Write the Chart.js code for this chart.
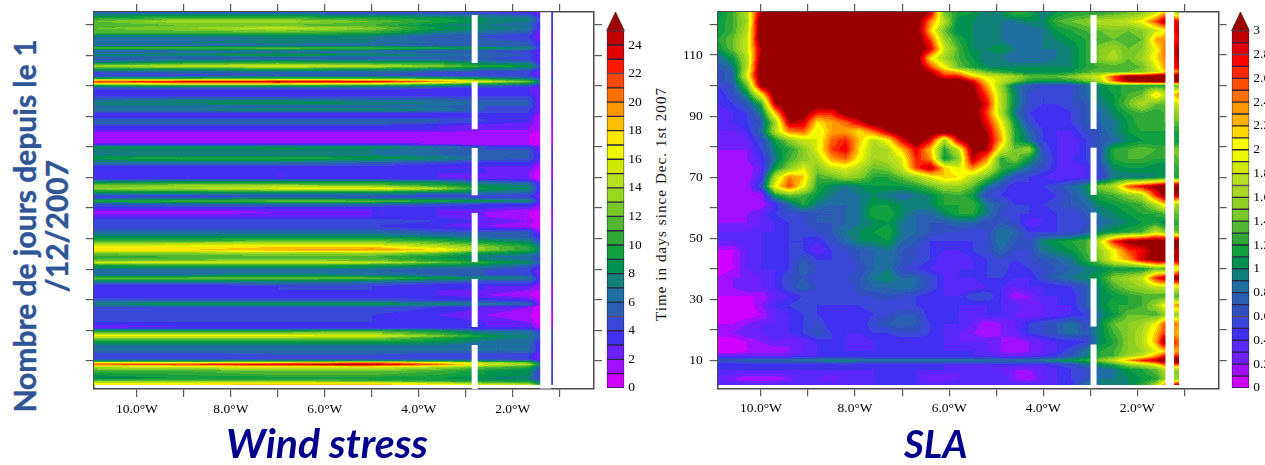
<!DOCTYPE html>
<html>
<head>
<meta charset="utf-8">
<script src="https://cdn.jsdelivr.net/npm/chart.js@4/dist/chart.umd.min.js"></script>
<style>
    body { margin: 0; background: #ffffff; width: 1265px; height: 465px; overflow: hidden; position: relative; }
    canvas { position: absolute; }
    .caption { position: absolute; color: #00008b; font: italic 700 38.5px Lato; white-space: nowrap; }
    #y_title {
        position: absolute; left: -180px; top: 194px; width: 440px; text-align: center;
        color: #2f5597; font: 700 30px/32px Lato;
        -webkit-text-stroke: 0.4px #2f5597;
        transform: rotate(-90deg);
    }
    #time_title {
        position: absolute; left: 511px; top: 194px; width: 300px; text-align: center;
        color: #111111; font: 15px/20px "Liberation Serif"; letter-spacing: 1.1px; white-space: nowrap;
        transform: rotate(-90deg);
    }
</style>
</head>
<body>
<div id="y_title">Nombre de jours depuis le 1<br>/12/2007</div>
<div id="time_title">Time in days since Dec. 1st 2007</div>
<canvas id="wind_chart" style="left:0;top:0" width="604" height="430"></canvas>
<canvas id="wind_bar" style="left:600px;top:0" width="50" height="400"></canvas>
<canvas id="sla_chart" style="left:650px;top:0" width="578" height="430"></canvas>
<canvas id="sla_bar" style="left:1225px;top:0" width="40" height="400"></canvas>
<div class="caption" style="left:226px;top:418px;font-size:41px">Wind stress</div>
<div class="caption" style="left:904px;top:420px">SLA</div>

<script>
const LON_TICKS = [-10, -9, -8, -7, -6, -5, -4, -3, -2, -1];
const LON_LABELS = ["10.0°W", "", "8.0°W", "", "6.0°W", "", "4.0°W", "", "2.0°W", ""];
const DAY_TICKS = [10, 20, 30, 40, 50, 60, 70, 80, 90, 100, 110, 120];
const DAY_LABELS = ["10", "", "30", "", "50", "", "70", "", "90", "", "110", ""];

// white gaps in the section, in days
const GAP_DAYS = [[123.1, 107.4], [101.2, 85.8], [79.6, 64.2], [58.4, 42.4], [36.8, 21.1], [15.2, 0.85]];

const WIND_COLORS = ["#d000ff", "#a010ff", "#6a20f8", "#4030f0", "#3a48d8", "#2a5eb0", "#1f70a0", "#108078", "#009050",
    "#10a040", "#30a838", "#50b830", "#78c828", "#98d820", "#b8e020", "#d0e800", "#f0f800", "#ffe800", "#ffc000",
    "#ff9800", "#ff7000", "#ff4800", "#ff1800", "#e00000", "#c00000", "#9a0000"];
const WIND_BAR_TICKS = [0, 2, 4, 6, 8, 10, 12, 14, 16, 18, 20, 22, 24];

const SLA_COLORS = ["#d000ff", "#a010ff", "#7020f8", "#5a28f8", "#4030f0", "#3a48d8", "#3050c0", "#2a5eb0", "#1f70a0",
    "#108078", "#009050", "#10a040", "#30a838", "#50b830", "#78c828", "#90d020", "#a8d820", "#b8e020", "#d0e800",
    "#f0f800", "#ffff00", "#ffd800", "#ffb000", "#ff9800", "#ff7000", "#ff5000", "#ff2800", "#ff0000", "#e00000",
    "#c00000", "#9a0000"];
const SLA_BAR_TICKS = [0, 0.2, 0.4, 0.6, 0.8, 1, 1.2, 1.4, 1.6, 1.8, 2, 2.2, 2.4, 2.6, 2.8, 3];

const WIND_LONS = [-10.92, -9, -7, -5, -3.6, -2.6, -1.65, -1.43, -1.15];
const WIND_DAYS = [124.1, 122.1, 121.1, 119.8, 118.8, 117.2, 116.5, 115.6, 114.2, 113.3, 112.3, 111.3, 110, 109, 107.7,
    106.4, 105.4, 104.4, 103.5, 102.5, 101.8, 101.3, 100.8, 100, 99.2, 97.9, 96.6, 95.3, 94.3, 93.3, 92, 91, 90, 89.1,
    88.1, 86.8, 85.5, 84.2, 81.9, 80.9, 79.9, 79, 77.6, 76.3, 75, 73.7, 71.4, 69.8, 68.5, 67.5, 66.4, 65.2, 63.9, 63.3,
    62.3, 61.3, 59.7, 58.7, 57.1, 55.8, 54.1, 52.2, 50.8, 49.5, 48.2, 47.3, 46.3, 45.3, 44, 43, 42.2, 41.4, 39.7, 38.1,
    37.1, 36.1, 34.5, 33.2, 31.6, 29.9, 28.6, 27.6, 25, 22.7, 21.1, 20.5, 19.8, 18.8, 18.2, 17.5, 16.5, 15.2, 13.3, 12,
    10.7, 10, 9.5, 8.9, 8, 6.7, 5.4, 4.4, 3.5, 2.6, 2];
// wind stress, one row per WIND_DAYS entry, one value per WIND_LONS entry
const WIND_VALUES = [
    [5,5,5,4,4,4,3,2,3], [10,11,11,10,9,8,7,4,4], [12,14,14,12,10,8,7,4,4], [11,12,12,11,8,7,6,3,3], [12,13,15,13,9,8,7,3,4],
    [11,11,11,10,7,6,5,2,3], [8,8,9,8,6,5,4,2,3], [6,6,7,7,5,5,4,2,3], [7,7,8,7,6,6,5,3,3], [6,6,6,6,5,5,5,3,3],
    [11,11,12,11,10,9,8,4,4], [5,6,6,6,5,5,4,2,3], [8,8,9,8,7,6,5,3,3], [5,5,5,5,5,5,4,2,3], [7,9,10,9,9,7,6,3,4],
    [14,15,16,15,13,10,9,5,5], [9,9,10,9,8,7,6,3,4], [5,6,6,6,5,4,4,2,3], [4,4,5,5,4,4,4,2,3], [8,9,10,10,9,8,6,4,4],
    [17,18,19,19,17,13,10,6,5], [22,24,25,24,20,16,12,8,6], [18,19,19,18,14,11,9,5,4], [9,10,10,9,8,6,5,3,3], [5,5,5,5,4,4,3,2,3],
    [3,3,3,3,3,3,3,2,3], [4,4,4,4,4,4,4,2,3], [6,7,7,6,6,5,5,2,3], [8,8,9,8,7,6,5,2,3], [6,6,6,6,6,5,5,2,3],
    [7,7,8,8,7,5,4,2,3], [4,4,4,4,4,4,4,2,3], [3,3,3,3,3,3,3,1,2], [5,5,5,5,5,4,3,1,2], [6,6,6,6,5,4,3,1,2],
    [4,4,4,4,3,2,2,1,2], [3,3,3,3,3,2,2,1,2], [1,1,1,1,1,1,1,0,1], [1,1,1,1,1,1,1,0,1], [3,3,3,3,2,1,1,0,2],
    [9,9,9,9,7,5,4,2,3], [7,7,8,7,6,5,5,2,3], [7,7,7,7,6,5,5,3,3], [9,10,10,9,8,6,5,3,3], [7,7,7,6,5,4,4,2,3],
    [4,4,4,4,3,3,3,1,2], [3,3,3,3,3,3,2,0,2], [3,3,3,3,3,2,2,0,2], [8,9,9,9,8,6,5,2,3], [12,13,13,12,10,8,7,3,4],
    [13,14,16,17,14,9,8,3,4], [9,9,9,9,8,7,6,3,3], [4,4,5,5,4,4,4,2,3], [5,6,7,6,6,5,5,2,3], [10,11,12,12,10,9,8,3,4],
    [5,6,6,6,5,4,4,2,3], [3,3,3,3,3,3,2,1,2], [1,1,2,3,3,2,1,0,2], [3,3,3,3,3,2,1,0,1], [5,5,5,5,4,3,2,0,2],
    [4,4,4,4,3,2,1,0,1], [6,6,6,6,5,5,5,2,3], [8,8,8,8,7,6,5,3,3], [10,10,11,11,10,8,7,4,4], [14,15,15,15,13,11,9,6,5],
    [17,17,18,18,15,13,10,7,5], [18,18,19,20,18,13,10,8,6], [13,13,14,14,12,9,8,6,5], [10,11,11,11,9,7,6,5,4], [12,12,13,12,10,8,7,4,4],
    [15,16,16,15,12,10,8,6,4], [10,11,11,10,9,8,6,4,4], [6,6,6,6,5,5,4,2,3], [7,7,8,7,6,5,5,2,3], [12,12,12,12,9,8,7,3,4],
    [8,8,8,7,6,5,5,3,3], [3,3,4,4,3,3,3,1,2], [4,4,4,4,3,3,2,1,2], [3,3,3,3,3,2,1,0,1], [5,5,5,5,4,4,3,1,2],
    [8,9,9,9,8,7,6,2,3], [5,5,5,5,4,3,2,0,2], [4,4,4,4,3,2,1,0,1], [4,4,4,4,4,3,2,0,1], [2,3,3,3,3,3,3,1,2],
    [5,5,5,5,5,4,4,2,3], [10,10,10,11,9,6,6,4,4], [14,14,14,14,11,8,7,5,4], [17,17,17,16,13,9,7,5,4], [13,13,13,13,10,8,7,5,4],
    [10,10,10,10,9,7,6,4,4], [7,7,7,7,7,6,6,3,3], [6,6,6,6,6,6,6,3,3], [4,4,5,5,4,4,4,2,3], [4,4,4,4,4,4,4,2,3],
    [8,8,8,9,9,8,7,4,4], [17,17,18,20,17,14,12,6,5], [21,22,24,25,21,16,14,8,5], [14,15,16,16,14,12,10,6,4], [11,11,12,12,11,9,8,4,4],
    [9,10,11,11,10,9,8,4,4], [8,9,9,9,9,8,7,4,3], [12,12,12,11,10,9,9,5,4], [17,17,18,18,16,14,13,9,5], [18,18,19,19,18,17,16,12,6]
];

const SLA_LONS = [-10.92, -10.6, -10.3, -10, -9.7, -9.4, -9.1, -8.8, -8.5, -8.2, -7.9, -7.6, -7.3, -7, -6.7, -6.4, -6.1,
    -5.8, -5.5, -5.2, -4.9, -4.6, -4.3, -4, -3.7, -3.4, -3.1, -2.8, -2.5, -2.2, -1.9, -1.6, -1.43, -1.12];
const SLA_DAYS = [124, 121, 118, 115, 112, 109, 106, 104.5, 103, 101.5, 100, 97, 94, 91, 88, 85, 82, 79, 76, 73, 70, 67, 64, 61, 58,
    55, 52, 49, 46, 43, 40, 37, 34, 31, 28, 25, 22, 19, 16, 13, 11.5, 10, 8.5, 7, 4, 2];
// sea level anomaly in tenths, one row per SLA_DAYS entry, one value per SLA_LONS entry
const SLA_VALUES = [
    [10,13,17,30,33,33,33,33,33,33,33,33,33,33,33,30,14,12,11,9,10,13,12,9,11,12,12,12,13,14,15,18,22,15],
    [11,13,16,33,33,33,33,33,33,33,33,33,33,33,33,24,17,10,10,9,9,9,10,10,13,14,15,17,17,18,20,26,30,28],
    [11,13,17,33,33,33,33,33,33,33,33,33,33,33,33,22,14,10,10,9,9,8,8,9,11,12,13,14,15,14,15,18,20,30],
    [12,14,18,33,33,33,33,33,33,33,33,33,33,33,33,26,16,12,10,9,9,8,8,9,10,11,12,13,14,13,14,23,24,28],
    [11,14,18,30,33,33,33,33,33,33,33,33,33,33,33,29,18,13,10,10,11,9,9,9,9,10,12,15,16,14,15,20,24,31],
    [8,11,17,31,33,33,33,33,33,33,33,33,33,33,33,21,16,13,11,9,9,8,8,8,9,10,12,15,17,14,16,21,24,30],
    [7,9,17,33,33,33,33,33,33,33,33,33,33,33,33,26,20,14,12,10,10,10,10,10,10,10,12,13,13,13,14,19,23,29],
    [6,8,18,33,33,33,33,33,33,33,33,33,33,33,33,30,24,22,17,14,12,11,10,10,10,11,13,14,14,14,15,18,21,24],
    [6,8,19,33,33,33,33,33,33,33,33,33,33,33,33,32,27,27,22,19,18,16,14,14,14,15,17,19,26,31,32,33,33,33],
    [6,8,16,32,33,33,33,33,33,33,33,33,33,33,33,33,33,33,28,21,18,15,12,11,11,12,14,17,25,31,32,33,33,33],
    [5,7,14,31,33,33,33,33,33,33,33,33,33,33,33,33,33,33,31,23,16,9,7,6,6,6,8,10,12,12,12,12,12,14],
    [4,6,10,20,33,33,33,33,33,33,33,33,33,33,33,33,33,33,32,26,17,10,6,5,5,6,8,10,11,13,14,22,18,24],
    [4,5,7,12,30,33,33,33,33,33,33,33,33,33,33,33,33,33,33,28,17,10,6,5,5,6,7,9,11,14,17,14,14,19],
    [3,4,5,9,22,33,32,27,27,32,33,33,33,33,33,33,33,33,33,26,17,9,5,4,4,5,7,8,10,12,13,12,13,16],
    [3,4,5,7,16,30,29,21,23,25,29,33,33,33,33,33,33,33,33,28,20,11,6,4,4,5,7,8,9,11,13,12,13,14],
    [3,3,4,8,17,24,25,19,23,23,21,25,30,33,33,33,33,33,33,30,22,12,8,5,4,4,6,7,9,11,12,12,12,12],
    [2,2,3,6,11,15,18,19,25,27,22,17,20,28,33,28,16,29,33,31,23,12,9,5,4,3,5,7,8,10,11,11,11,11],
    [2,2,2,5,10,12,15,19,26,28,21,16,17,22,28,22,12,18,31,30,19,14,16,6,4,3,5,7,12,13,14,13,13,15],
    [1,1,2,4,9,13,15,17,23,25,20,16,17,19,27,24,11,15,30,24,12,15,11,7,4,4,5,7,12,13,13,12,12,14],
    [1,1,1,3,11,15,19,15,18,19,17,14,15,18,26,30,22,19,24,19,13,11,8,6,4,3,4,6,10,11,11,10,10,13],
    [1,1,1,4,17,24,22,13,14,16,15,12,12,14,16,19,22,21,17,14,10,6,5,4,3,3,4,5,9,9,9,10,11,12],
    [1,1,1,6,20,26,20,12,10,9,10,11,11,11,12,14,16,16,14,9,6,4,5,5,6,8,10,15,17,25,28,31,33,33],
    [1,1,1,1,11,14,13,11,9,8,9,10,9,8,9,10,12,13,11,6,5,4,4,4,5,7,9,12,13,15,17,27,31,29],
    [1,1,1,1,4,8,12,9,8,8,9,11,11,10,10,10,12,12,13,9,7,5,5,5,6,7,8,10,11,12,13,17,21,16],
    [2,1,2,3,5,6,6,7,7,8,9,12,12,10,8,8,10,12,12,9,6,5,5,4,5,5,7,9,10,11,12,12,13,14],
    [2,2,2,3,4,5,6,7,7,8,9,10,11,9,8,7,7,8,8,6,7,6,3,4,5,5,6,8,9,10,11,12,10,13],
    [3,3,3,4,4,5,5,6,7,9,10,11,12,9,8,7,6,6,5,6,9,8,5,5,5,5,7,10,11,12,13,18,16,14],
    [3,3,4,4,5,5,5,4,6,8,10,10,11,8,7,5,5,5,5,6,9,7,6,10,11,12,13,18,27,31,32,33,33,33],
    [1,1,3,4,4,5,5,3,5,6,7,8,9,7,6,5,4,4,5,6,8,6,6,9,10,11,13,16,20,26,28,31,32,29],
    [0,1,3,4,4,5,7,5,5,5,7,8,9,7,6,5,3,3,4,5,6,5,6,7,8,9,12,15,20,23,29,32,33,29],
    [0,1,3,4,4,5,8,6,5,5,6,8,9,6,5,4,3,4,4,5,6,4,5,6,7,8,9,10,11,11,11,14,13,20],
    [1,2,2,3,4,6,7,5,6,6,7,9,10,8,8,6,4,4,4,5,5,4,4,6,8,9,10,11,15,16,18,27,30,32],
    [2,2,3,3,4,6,8,6,5,5,7,8,8,9,8,6,4,3,3,4,4,3,4,4,4,5,7,10,13,15,16,18,18,19],
    [1,1,1,1,3,4,5,5,5,5,6,6,7,6,5,4,4,4,6,6,4,1,2,4,4,4,7,10,11,12,13,13,13,13],
    [0,0,0,2,4,5,6,5,5,5,5,6,5,5,5,4,4,4,4,4,4,4,2,3,4,4,7,10,12,12,13,16,20,24],
    [0,0,0,1,3,4,5,5,4,5,4,5,6,7,7,4,4,4,3,4,4,3,2,3,3,4,5,9,11,14,14,13,15,16],
    [1,1,2,3,3,4,5,6,4,4,4,6,7,8,7,5,4,4,3,1,2,3,5,6,7,9,6,10,14,15,16,20,25,24],
    [2,2,3,3,4,4,5,7,5,4,4,5,5,6,6,5,4,3,2,1,2,3,5,6,7,9,7,10,13,15,17,22,26,22],
    [0,0,1,2,3,2,3,4,5,4,3,4,4,4,4,4,4,3,3,3,2,1,2,3,4,4,5,10,12,15,17,23,31,25],
    [0,0,1,1,1,2,3,4,4,4,4,4,4,4,4,4,4,4,4,3,2,1,2,3,4,6,9,12,13,15,16,19,21,23],
    [3,3,3,3,3,3,4,4,4,4,4,4,4,4,4,4,4,4,4,4,3,3,3,4,5,7,9,12,13,16,18,23,27,27],
    [7,7,8,8,8,8,9,9,10,10,9,9,9,9,9,9,9,9,9,8,8,8,9,9,10,11,12,15,18,23,27,30,33,33],
    [4,4,4,4,4,4,4,4,4,5,4,4,4,4,4,4,4,4,4,4,4,4,4,4,5,6,8,10,12,15,17,20,24,25],
    [4,4,4,4,4,4,4,4,4,4,4,4,4,4,4,4,4,3,4,3,3,2,2,3,4,5,6,8,9,11,12,14,17,16],
    [3,2,1,1,1,2,4,3,2,4,3,4,4,4,4,2,2,3,4,3,4,2,1,3,4,5,6,9,9,10,11,12,15,15],
    [4,4,4,4,4,4,4,4,4,4,4,4,4,4,4,4,4,4,4,4,4,4,4,4,4,4,9,9,10,10,12,16,24,30]
];

const AXIS_COLOR = "#4a4a4a";
const TICK_FONT = { family: "Liberation Serif", size: 13.5 };

function hexToRgb(hex) {
    return [1, 3, 5].map(i => parseInt(hex.slice(i, i + 2), 16));
}

// fills between the grid nodes of dataset 0, pixel by pixel, in discrete levels like a filled contour plot
const contourFill = {
    id: "contourFill",
    beforeDatasetsDraw(chart, args, opts) {
        const nodes = chart.getDatasetMeta(0).data;
        const values = chart.data.datasets[0].data;
        const nCols = opts.nCols;
        const nRows = nodes.length / nCols;
        const xs = [];
        const ys = [];
        for (let c = 0; c < nCols; c++) xs.push(nodes[c].x);
        for (let r = 0; r < nRows; r++) ys.push(nodes[r * nCols].y);

        const x0 = Math.round(xs[0]);
        const y0 = Math.round(ys[0]);
        const w = Math.round(xs[nCols - 1]) - x0;
        const h = Math.round(ys[nRows - 1]) - y0;
        const buffer = document.createElement("canvas");
        buffer.width = w;
        buffer.height = h;
        const bufferCtx = buffer.getContext("2d");
        const image = bufferCtx.createImageData(w, h);
        const palette = opts.colors.map(hexToRgb);

        let r = 0;
        for (let py = 0; py < h; py++) {
            const yy = y0 + py + 0.5;
            while (r < nRows - 2 && ys[r + 1] < yy) r++;
            const ty = Math.min(1, Math.max(0, (yy - ys[r]) / (ys[r + 1] - ys[r])));
            let c = 0;
            for (let px = 0; px < w; px++) {
                const xx = x0 + px + 0.5;
                while (c < nCols - 2 && xs[c + 1] < xx) c++;
                const tx = Math.min(1, Math.max(0, (xx - xs[c]) / (xs[c + 1] - xs[c])));
                const a = values[r * nCols + c].v;
                const b = values[r * nCols + c + 1].v;
                const d = values[(r + 1) * nCols + c].v;
                const e = values[(r + 1) * nCols + c + 1].v;
                const v = (a * (1 - tx) + b * tx) * (1 - ty) + (d * (1 - tx) + e * tx) * ty;
                const rgb = palette[Math.min(palette.length - 1, Math.floor(v))];
                const i = (py * w + px) * 4;
                image.data[i] = rgb[0];
                image.data[i + 1] = rgb[1];
                image.data[i + 2] = rgb[2];
                image.data[i + 3] = 255;
            }
        }
        bufferCtx.putImageData(image, 0, 0);
        chart.ctx.drawImage(buffer, x0, y0);
    }
};

// arrow on top of the colour bar for values over the last level
const barArrow = {
    id: "barArrow",
    afterDatasetsDraw(chart, args, opts) {
        const { ctx, chartArea } = chart;
        const base = chart.scales.y.getPixelForValue(opts.from);
        ctx.save();
        ctx.fillStyle = opts.color;
        ctx.strokeStyle = "#5a3030";
        ctx.beginPath();
        ctx.moveTo(chartArea.left, base);
        ctx.lineTo((chartArea.left + chartArea.right) / 2, chartArea.top);
        ctx.lineTo(chartArea.right, base);
        ctx.closePath();
        ctx.fill();
        ctx.stroke();
        ctx.restore();
    }
};

function tickAxis(position, size, ticksList, labels, labelPad, extra) {
    return Object.assign({
        type: "linear",
        position: position,
        afterFit: scale => {
            if (scale.isHorizontal()) {
                scale.height = size;
            } else {
                scale.width = size;
                // label overhang would push the plot area down otherwise
                scale.paddingTop = 0;
                scale.paddingBottom = 0;
            }
        },
        afterBuildTicks: scale => {
            scale.ticks = ticksList.map(v => ({ value: v }));
        },
        grid: { drawOnChartArea: false, tickLength: 8, color: "#5a5a5a", lineWidth: 1.2 },
        border: { display: true, color: AXIS_COLOR, width: 1.5 },
        ticks: labels
            ? {
                display: true,
                autoSkip: false,
                maxRotation: 0,
                color: "#000000",
                font: TICK_FONT,
                padding: labelPad,
                callback: value => labels[ticksList.indexOf(value)]
            }
            : { display: false }
    }, extra);
}

function createSection(canvasId, cfg) {
    const nodes = [];
    cfg.days.forEach((day, r) => {
        cfg.lons.forEach((lon, c) => {
            nodes.push({ x: lon, y: day, v: cfg.values[r][c] });
        });
    });

    const datasets = [{ data: nodes, pointRadius: 0, showLine: false }];

    // white dashes across the section
    GAP_DAYS.forEach(gap => {
        datasets.push({
            data: [{ x: cfg.dashLon, y: gap[0] }, { x: cfg.dashLon, y: gap[1] }],
            showLine: true,
            pointRadius: 0,
            borderColor: "#ffffff",
            borderWidth: 6
        });
    });

    // solid white column next to the last strip
    datasets.push({
        data: [{ x: cfg.gapLon, y: 124 }, { x: cfg.gapLon, y: 1 }],
        showLine: true,
        pointRadius: 0,
        borderColor: "#ffffff",
        borderWidth: cfg.gapWidth
    });

    new Chart(document.getElementById(canvasId), {
        type: "scatter",
        data: { datasets: datasets },
        plugins: [contourFill],
        options: {
            responsive: false,
            animation: false,
            events: [],
            layout: { padding: 0 },
            scales: {
                x: tickAxis("bottom", cfg.bottom, LON_TICKS, LON_LABELS, 4, { min: -10.92, max: -0.27 }),
                xTop: tickAxis("top", 12, LON_TICKS, null, 0, { min: -10.92, max: -0.27 }),
                y: tickAxis("left", cfg.left, DAY_TICKS, cfg.dayLabels, 7, { min: 0.85, max: 124.1 }),
                yRight: tickAxis("right", cfg.right, DAY_TICKS, null, 0, { min: 0.85, max: 124.1 })
            },
            plugins: {
                legend: { display: false },
                tooltip: { enabled: false },
                contourFill: { nCols: cfg.lons.length, colors: cfg.colors }
            }
        }
    });
}

function createColorBar(canvasId, cfg) {
    const levels = cfg.colors.length - 1;
    const datasets = [];
    for (let i = 0; i < levels; i++) {
        datasets.push({
            data: [[i * cfg.step, (i + 1) * cfg.step]],
            backgroundColor: cfg.colors[i],
            borderColor: "#2a2440",
            borderWidth: 1,
            borderSkipped: false,
            grouped: false,
            barPercentage: 1,
            categoryPercentage: 1
        });
    }

    new Chart(document.getElementById(canvasId), {
        type: "bar",
        data: { labels: [""], datasets: datasets },
        plugins: [barArrow],
        options: {
            responsive: false,
            animation: false,
            events: [],
            layout: { padding: cfg.padding },
            scales: {
                x: { display: false },
                y: {
                    position: "right",
                    min: 0,
                    max: cfg.max,
                    afterFit: scale => { scale.width = cfg.axisWidth; },
                    afterBuildTicks: scale => {
                        scale.ticks = cfg.ticks.map(v => ({ value: v }));
                    },
                    grid: { display: false, drawTicks: false },
                    border: { display: false },
                    ticks: {
                        autoSkip: false,
                        color: "#000000",
                        font: TICK_FONT,
                        padding: 4,
                        callback: value => String(value)
                    }
                }
            },
            plugins: {
                legend: { display: false },
                tooltip: { enabled: false },
                barArrow: { from: levels * cfg.step, color: cfg.colors[levels] }
            }
        }
    });
}

createSection("wind_chart", {
    lons: WIND_LONS,
    days: WIND_DAYS,
    values: WIND_VALUES,
    colors: WIND_COLORS,
    dashLon: -2.81,
    gapLon: -1.298,
    gapWidth: 11,
    left: 93.7,
    right: 10,
    bottom: 41,
    dayLabels: null
});

createSection("sla_chart", {
    lons: SLA_LONS,
    days: SLA_DAYS,
    values: SLA_VALUES,
    colors: SLA_COLORS,
    dashLon: -2.93,
    gapLon: -1.31,
    gapWidth: 8.6,
    left: 67.7,
    right: 9.3,
    bottom: 41.7,
    dayLabels: DAY_LABELS
});

createColorBar("wind_bar", {
    colors: WIND_COLORS,
    step: 1,
    max: 26.3,
    ticks: WIND_BAR_TICKS,
    axisWidth: 25.7,
    padding: { left: 6.7, right: 0, top: 12, bottom: 11 }
});

createColorBar("sla_bar", {
    colors: SLA_COLORS,
    step: 0.1,
    max: 3.156,
    ticks: SLA_BAR_TICKS,
    axisWidth: 15.7,
    padding: { left: 6.7, right: 0, top: 12, bottom: 11.7 }
});
</script>
</body>
</html>
